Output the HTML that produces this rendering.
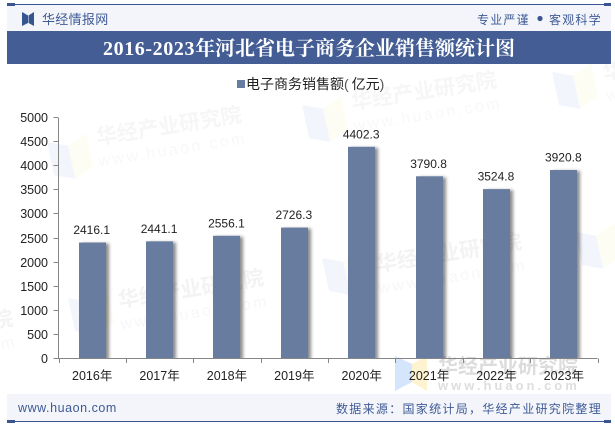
<!DOCTYPE html>
<html lang="zh">
<head>
<meta charset="utf-8">
<style>
html,body{margin:0;padding:0;background:#fff;}
#chart-root{position:relative;width:615px;height:427px;overflow:hidden;}
svg{position:absolute;left:0;top:0;}
.cjk{font-family:"Liberation Sans","Noto Sans CJK SC",sans-serif;}
</style>
</head>
<body>
<div id="chart-root">
<svg id="chart" width="615" height="427" viewBox="0 0 615 427" xmlns="http://www.w3.org/2000/svg">
  <defs>
    <filter id="barShadow" x="-30%" y="-5%" width="170%" height="110%">
      <feDropShadow dx="3" dy="1" stdDeviation="1.6" flood-color="#000" flood-opacity="0.45"/>
    </filter>
    <clipPath id="plotClip"><rect x="0" y="0" width="615" height="359"/></clipPath>
  </defs>

  <g id="watermarks" font-family="'Liberation Sans','Noto Sans CJK SC',sans-serif">
    <g transform="translate(47,142) rotate(-12)">
      <polygon points="0,0 20,8 20,42 0,34" fill="#f2f6fc"/><polygon points="20,8 40,0 40,34 20,42" fill="#fefdf4"/>
    </g>
    <g transform="translate(170,133) rotate(-9)">
      <text x="0" y="0" text-anchor="middle" font-size="21" font-weight="700" fill="#f6f6f6">华经产业研究院</text>
      <text x="0" y="22" text-anchor="middle" font-size="16" letter-spacing="2.5" fill="#f8f8f8">www.huaon.com</text>
    </g>
    <g transform="translate(302,105) rotate(-12)">
      <polygon points="0,0 20,8 20,42 0,34" fill="#f2f6fc"/><polygon points="20,8 40,0 40,34 20,42" fill="#fefdf4"/>
    </g>
    <g transform="translate(425,98) rotate(-9)">
      <text x="0" y="0" text-anchor="middle" font-size="21" font-weight="700" fill="#f6f6f6">华经产业研究院</text>
      <text x="0" y="22" text-anchor="middle" font-size="16" letter-spacing="2.5" fill="#f8f8f8">www.huaon.com</text>
    </g>
    <g transform="translate(552,72) rotate(-12)">
      <polygon points="0,0 20,8 20,42 0,34" fill="#f2f6fc"/><polygon points="20,8 40,0 40,34 20,42" fill="#fefdf4"/>
    </g>
    <g transform="translate(604,80) rotate(-9)">
      <text x="0" y="0" font-size="21" font-weight="700" fill="#f6f6f6">华经产业研究院</text>
      <text x="0" y="22" font-size="16" letter-spacing="2.5" fill="#f8f8f8">www.huaon.com</text>
    </g>
    <g transform="translate(68,298) rotate(-12)">
      <polygon points="0,0 20,8 20,42 0,34" fill="#f2f6fc"/><polygon points="20,8 40,0 40,34 20,42" fill="#fefdf4"/>
    </g>
    <g transform="translate(192,296) rotate(-9)">
      <text x="0" y="0" text-anchor="middle" font-size="21" font-weight="700" fill="#f3f3f3">华经产业研究院</text>
      <text x="0" y="22" text-anchor="middle" font-size="16" letter-spacing="2.5" fill="#f7f7f7">www.huaon.com</text>
    </g>
    <g transform="translate(14,325) rotate(-9)">
      <text x="0" y="0" text-anchor="end" font-size="21" font-weight="700" fill="#f3f3f3">华经产业研究院</text>
      <text x="0" y="22" text-anchor="end" font-size="16" letter-spacing="2.5" fill="#f7f7f7">www.huaon.com</text>
    </g>
    <g transform="translate(322,258) rotate(-12)">
      <polygon points="0,0 20,8 20,42 0,34" fill="#f2f6fc"/><polygon points="20,8 40,0 40,34 20,42" fill="#fefdf4"/>
    </g>
    <g transform="translate(450,260) rotate(-9)">
      <text x="0" y="0" text-anchor="middle" font-size="21" font-weight="700" fill="#f3f3f3">华经产业研究院</text>
      <text x="0" y="22" text-anchor="middle" font-size="16" letter-spacing="2.5" fill="#f7f7f7">www.huaon.com</text>
    </g>
    <g transform="translate(575,232) rotate(-12)">
      <polygon points="0,0 20,8 20,42 0,34" fill="#f2f6fc"/><polygon points="20,8 40,0 40,34 20,42" fill="#fefdf4"/>
    </g>
    <g>
      <polygon points="395,356 412,364 412,382 395,391" fill="#d5e5fb"/>
      <polygon points="412,364 427,356 427,391 412,382" fill="#fdf3cf"/>
      <text x="438" y="373" font-size="20" font-weight="700" fill="#dcdcdc">华经产业研究院</text>
      <text x="438" y="390" font-size="13" font-weight="700" letter-spacing="3" fill="#dedede">www.huaon.com</text>
    </g>
  </g>

  <g id="header">
    <rect x="7" y="5" width="604" height="26" fill="#f3f5fa"/>
    <rect x="7" y="4" width="604" height="1" fill="#3a5592"/>
    <rect x="7" y="3" width="8" height="3" fill="#3a5592"/>
    <rect x="604" y="3" width="7" height="3" fill="#3a5592"/>
    <g fill="#34558f">
      <polygon points="22,12 28,15.5 28,23 22,26"/>
      <polygon points="34,12 28.5,15.5 28.5,23 34,26"/>
    </g>
    <text class="cjk" x="42" y="24" font-size="13" letter-spacing="0.3" fill="#3e5a95">华经情报网</text>
    <text class="cjk" x="477" y="24" font-size="12" letter-spacing="1.2" fill="#3e5a95">专业严谨</text>
    <circle cx="540" cy="18.5" r="2.6" fill="#3a5592"/>
    <text class="cjk" x="549" y="24" font-size="12" letter-spacing="1.2" fill="#3e5a95">客观科学</text>
  </g>

  <rect x="7" y="31" width="604" height="33" fill="#445e95"/>
  <text x="103" y="55" font-family="'Liberation Serif','Noto Serif CJK SC',serif" font-size="20" font-weight="700" fill="#fff"><tspan letter-spacing="0.6">2016-2023</tspan>年河北省电子商务企业销售额统计图</text>

  <g>
    <rect x="237" y="80" width="8" height="8" fill="#687ba0"/>
    <text class="cjk" x="246" y="89" font-size="14" fill="#222">电子商务销售额<tspan fill="#555">(</tspan><tspan dx="3">亿元</tspan><tspan fill="#555">)</tspan></text>
  </g>

  <g id="plot"></g>

  <g id="footer">
    <rect x="7" y="394" width="604" height="27" fill="#f3f5fa"/>
    <rect x="7" y="421" width="604" height="1" fill="#3a5592"/>
    <rect x="7" y="420" width="8" height="3" fill="#3a5592"/>
    <rect x="604" y="420" width="7" height="3" fill="#3a5592"/>
    <text x="18" y="412" font-family="'Liberation Sans',sans-serif" font-size="12.5" font-weight="400" letter-spacing="0.55" fill="#3e5a95">www.huaon.com</text>
    <text class="cjk" x="336" y="413" font-size="12" letter-spacing="1.3" fill="#3e5a95">数据来源：国家统计局，华经产业研究院整理</text>
  </g>
</svg>
</div>
<script>
const categories = ["2016年","2017年","2018年","2019年","2020年","2021年","2022年","2023年"];
const salesValues = [2416.1,2441.1,2556.1,2726.3,4402.3,3790.8,3524.8,3920.8];
const valueLabels = ["2416.1","2441.1","2556.1","2726.3","4402.3","3790.8","3524.8","3920.8"];
const yTickValues = [0,500,1000,1500,2000,2500,3000,3500,4000,4500,5000];

const NS = "http://www.w3.org/2000/svg";
const plot = document.getElementById("plot");
const left = 58.5, right = 597.5, top_ = 118, bottom = 359, yMax = 5000;
const barWidth = 27;
const FONT = "'Liberation Sans','Noto Sans CJK SC',sans-serif";

function yScale(v){ return bottom - (v / yMax) * (bottom - top_); }
function xBand(i){ return left + (right - left) * i / categories.length; }
function xCenter(i){ return xBand(i) + (right - left) / categories.length / 2; }

function make(tag, attrs, text){
  const el = document.createElementNS(NS, tag);
  for (const k in attrs) el.setAttribute(k, attrs[k]);
  if (text !== undefined) el.textContent = text;
  return el;
}

const barsGroup = make("g", {"clip-path": "url(#plotClip)"});


plot.appendChild(barsGroup);

categories.forEach(function(c, i){
  const y = yScale(salesValues[i]);
  const bar = make("rect", {x: Math.round(xCenter(i) - barWidth / 2), y: y, width: barWidth, height: bottom - y, fill: "#687ba0", filter: "url(#barShadow)"});
  
  
  barsGroup.appendChild(bar);
});

const yAxis = make("line", {x1: left, y1: top_, x2: left, y2: bottom, stroke: "#868686", "stroke-width": 1});


plot.appendChild(yAxis);

const xAxis = make("line", {x1: left, y1: bottom - 0.5, x2: right, y2: bottom - 0.5, stroke: "#868686", "stroke-width": 1});


plot.appendChild(xAxis);

yTickValues.forEach(function(v){
  const y = Math.round(yScale(v)) - 0.5;
  const tick = make("line", {x1: left - 5, y1: y, x2: left, y2: y, stroke: "#868686", "stroke-width": 1});
  
  
  plot.appendChild(tick);
  const label = make("text", {x: 48, y: y + 4.5, "text-anchor": "end", "font-family": FONT, "font-size": 12.5, fill: "#222"}, String(v));
  
  
  plot.appendChild(label);
});

for (let i = 0; i <= categories.length; i++){
  const x = Math.round(xBand(i)) + 0.5;
  const tick = make("line", {x1: x, y1: bottom - 0.5, x2: x, y2: bottom + 4, stroke: "#868686", "stroke-width": 1});
  
  
  plot.appendChild(tick);
}

categories.forEach(function(c, i){
  const label = make("text", {x: xCenter(i), y: 380, "text-anchor": "middle", "font-family": FONT, "font-size": 12.5, fill: "#222"}, c);
  
  
  plot.appendChild(label);
  const val = make("text", {x: xCenter(i) - 0.5, y: yScale(salesValues[i]) - 8.5, "text-anchor": "middle", "font-family": FONT, "font-size": 12, fill: "#222"}, valueLabels[i]);
  
  
  plot.appendChild(val);
});
</script>
</body>
</html>
